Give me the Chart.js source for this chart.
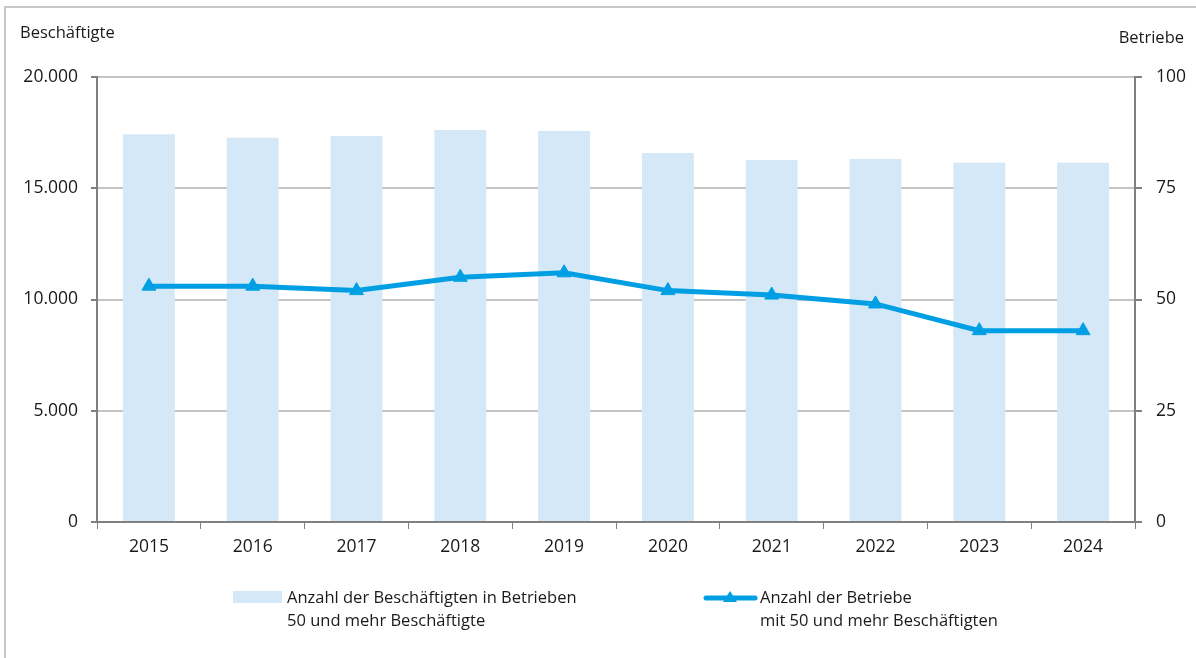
<!DOCTYPE html>
<html>
<head>
<meta charset="utf-8">
<script src="https://cdn.jsdelivr.net/npm/chart.js@4"></script>
<style>
    body { margin: 0; background: white; }
</style>
</head>
<body>
<canvas id="myChart" width="1196" height="658"></canvas>
<script>
// Jahre
const years = ['2015', '2016', '2017', '2018', '2019', '2020', '2021', '2022', '2023', '2024'];
// Anzahl der Beschäftigten in Betrieben mit 50 und mehr Beschäftigten
const beschaeftigte = [17430, 17270, 17350, 17620, 17570, 16580, 16270, 16310, 16150, 16150];
// Anzahl der Betriebe mit 50 und mehr Beschäftigten
const betriebe = [53, 53, 52, 55, 56, 52, 51, 49, 43, 43];
// Achsenbeschriftung
const leftTicks = [0, 5000, 10000, 15000, 20000];
const rightTicks = [0, 25, 50, 75, 100];
const legendBar = ['Anzahl der Beschäftigten in Betrieben', '50 und mehr Beschäftigte'];
const legendLine = ['Anzahl der Betriebe', 'mit 50 und mehr Beschäftigten'];

const barColor = '#d4e8f8';
const lineColor = '#009fe3';
const textColor = '#1a1a1a';
const fontFamily = "'Open Sans', sans-serif";

// Rahmen, Achsentitel und Legende
const extras = {
    id: 'extras',
    afterDraw(chart) {
        const ctx = chart.ctx;
        ctx.save();
        // Rahmen links und oben
        ctx.strokeStyle = '#c8c8c8';
        ctx.lineWidth = 2;
        ctx.beginPath();
        ctx.moveTo(5, 658);
        ctx.lineTo(5, 7);
        ctx.lineTo(1196, 7);
        ctx.stroke();

        ctx.fillStyle = textColor;
        ctx.font = '16.5px ' + fontFamily;
        ctx.textBaseline = 'middle';
        ctx.textAlign = 'left';
        ctx.fillText('Beschäftigte', 20, 33);
        ctx.textAlign = 'right';
        ctx.fillText('Betriebe', 1184, 38);

        // Legende
        ctx.textAlign = 'left';
        ctx.fillStyle = barColor;
        ctx.fillRect(233, 591, 49, 12);
        ctx.fillStyle = textColor;
        ctx.fillText(legendBar[0], 287, 598);
        ctx.fillText(legendBar[1], 287, 621);

        ctx.strokeStyle = lineColor;
        ctx.lineWidth = 5;
        ctx.lineCap = 'round';
        ctx.beginPath();
        ctx.moveTo(706, 598);
        ctx.lineTo(755, 598);
        ctx.stroke();
        ctx.fillStyle = lineColor;
        ctx.beginPath();
        ctx.moveTo(730, 591);
        ctx.lineTo(737, 602);
        ctx.lineTo(723, 602);
        ctx.closePath();
        ctx.fill();
        ctx.fillStyle = textColor;
        ctx.fillText(legendLine[0], 760, 598);
        ctx.fillText(legendLine[1], 760, 621);
        ctx.restore();
    }
};

const ctx = document.getElementById('myChart').getContext('2d');
const myChart = new Chart(ctx, {
    type: 'bar',
    data: {
        labels: years,
        datasets: [{
            type: 'line',
            label: legendLine.join(' '),
            data: betriebe,
            yAxisID: 'y1',
            borderColor: lineColor,
            backgroundColor: lineColor,
            borderWidth: 5,
            pointStyle: 'triangle',
            pointRadius: 8,
            pointBorderWidth: 1,
            tension: 0,
            order: 0
        }, {
            label: legendBar.join(' '),
            data: beschaeftigte,
            yAxisID: 'y',
            backgroundColor: barColor,
            barPercentage: 0.5,
            categoryPercentage: 1,
            order: 1
        }]
    },
    options: {
        responsive: false,
        animation: false,
        layout: {
            padding: { left: 0, right: 0, top: 77, bottom: 96 }
        },
        plugins: {
            legend: { display: false },
            tooltip: { enabled: false }
        },
        scales: {
            x: {
                offset: true,
                afterFit: (scale) => { scale.height = 40; },
                grid: {
                    offset: true,
                    drawOnChartArea: false,
                    tickLength: 7,
                    tickColor: '#808080'
                },
                border: { color: '#808080', width: 2 },
                ticks: {
                    color: textColor,
                    font: { family: fontFamily, size: 17.5 },
                    padding: 8,
                    maxRotation: 0
                }
            },
            y: {
                position: 'left',
                min: 0,
                max: 20000,
                afterFit: (scale) => { scale.width = 97; },
                afterBuildTicks: (scale) => { scale.ticks = leftTicks.map(v => ({ value: v })); },
                grid: {
                    color: '#c4c4c4',
                    lineWidth: 2,
                    tickLength: 6,
                    tickColor: '#808080'
                },
                border: { color: '#808080', width: 2 },
                ticks: {
                    color: textColor,
                    font: { family: fontFamily, size: 17.5 },
                    padding: 13,
                    callback: (v) => v.toLocaleString('de-DE')
                }
            },
            y1: {
                position: 'right',
                min: 0,
                max: 100,
                afterFit: (scale) => { scale.width = 61; },
                afterBuildTicks: (scale) => { scale.ticks = rightTicks.map(v => ({ value: v })); },
                grid: {
                    drawOnChartArea: false,
                    tickLength: 7,
                    tickColor: '#808080',
                    lineWidth: 2
                },
                border: { color: '#808080', width: 2 },
                ticks: {
                    color: textColor,
                    font: { family: fontFamily, size: 17.5 },
                    padding: 14
                }
            }
        }
    },
    plugins: [extras]
});
</script>
</body>
</html>
